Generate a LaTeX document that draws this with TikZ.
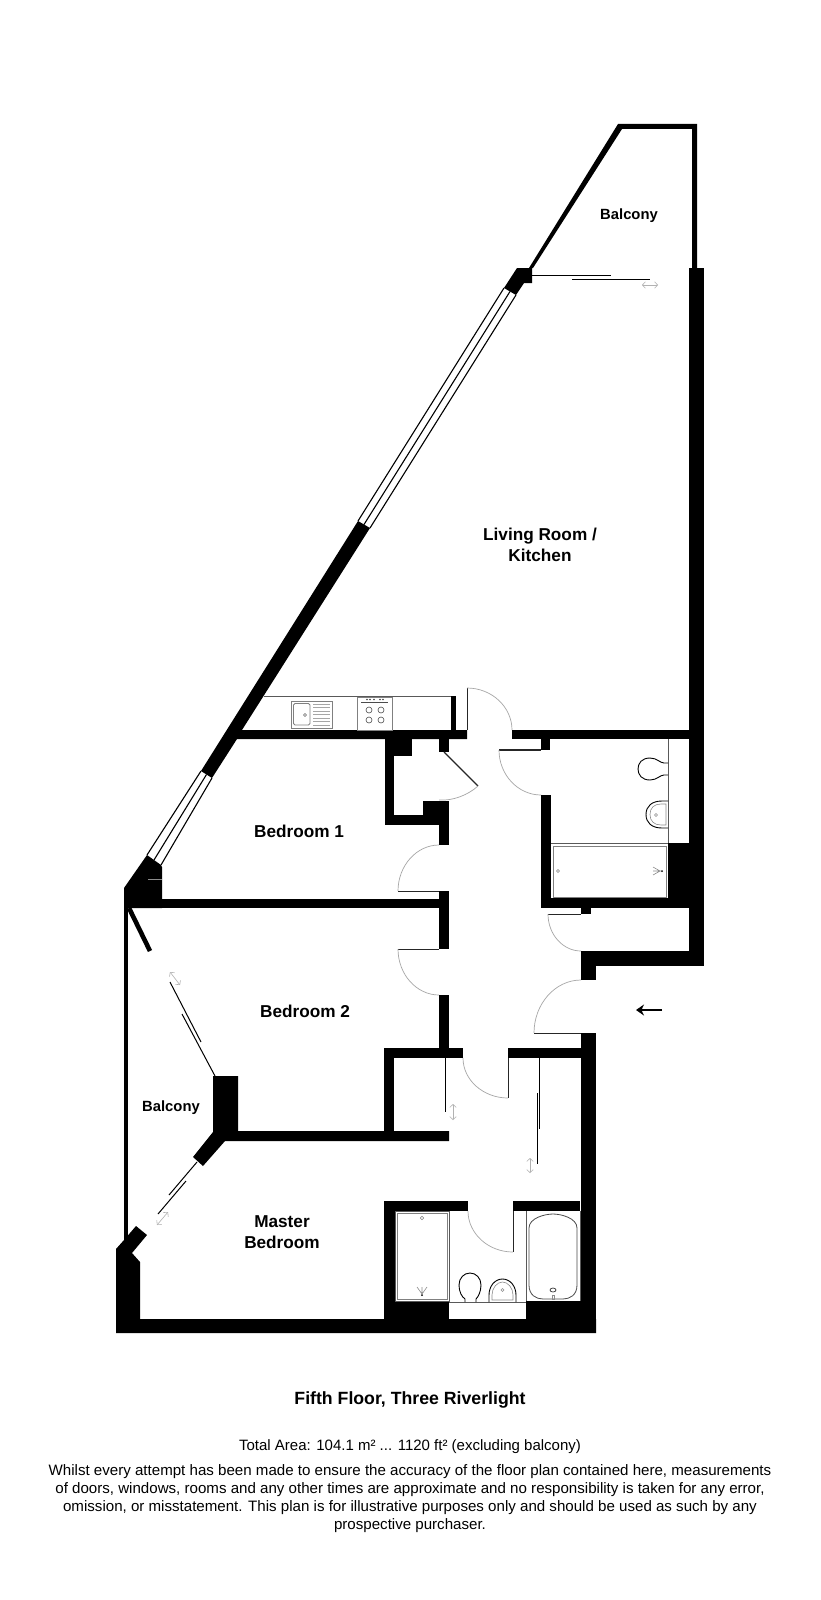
\documentclass[tikz,border=0pt]{standalone}
\usepackage{fontspec}
\setmainfont{Liberation Sans}
\usetikzlibrary{calc,arrows.meta}
\tikzset{
  x=1pt,y=-1pt,
  wallfill/.style={fill=black,draw=none},
  swing/.style={draw=black!35,line width=0.7pt},
  leaf/.style={draw=black!85,line width=0.9pt},
  slider/.style={draw=black,line width=1pt},
  thinwall/.style={draw=black!65,line width=0.9pt},
  frame/.style={draw=black!50,line width=0.8pt},
  fixture/.style={draw=black,line width=0.9pt},
  fixturegrey/.style={draw=black!45,line width=0.6pt},
  glazing/.style={draw=black,line width=1.1pt},
  hint/.style={draw=black!30,line width=0.6pt,{Straight Barb[length=3pt,width=6.5pt]}-{Straight Barb[length=3pt,width=6.5pt]}},
  roomlabel/.style={font=\bfseries\fontsize{17.2}{21.5}\selectfont,align=center,inner sep=0pt},
  balconylabel/.style={font=\bfseries\fontsize{14.8}{18}\selectfont,align=center,inner sep=0pt},
  titlelabel/.style={font=\bfseries\fontsize{17.7}{20}\selectfont,align=center,inner sep=0pt},
  arealabel/.style={font=\fontsize{15}{18}\selectfont,align=center,inner sep=0pt},
  notelabel/.style={font=\fontsize{15.1}{18}\selectfont,align=center,inner sep=0pt},
}
\newcommand{\wallrect}[2]{\fill[wallfill] (#1) rectangle (#2);}
\newcommand{\doorswing}[3]{\draw[swing] (#1) .. controls ($(#1)+0.55*(#2)-0.55*(#3)$) and ($(#2)+0.55*(#1)-0.55*(#3)$) .. (#2);}
\begin{document}
\begin{tikzpicture}
\useasboundingbox (0,0) rectangle (820,1600);
\fill[white] (0,0) rectangle (820,1600);
% balcony rail
\fill[wallfill] (618,124) -- (697,124) -- (697,268) -- (692,268) -- (692,129) -- (622,129) -- (533,268) -- (529,268) -- cycle;
% main walls
\wallrect{689,268}{704,966}
\wallrect{512,730}{689,739}
\wallrect{541,739}{550,750}
\wallrect{541,795}{551,908}
\wallrect{541,898}{704,908}
\wallrect{668,843}{704,908}
\wallrect{581,908}{591,914}
\wallrect{581,951}{704,966}
\wallrect{581,951}{596,980}
\wallrect{581,1033}{596,1333}
\wallrect{508,1048}{596,1058}
\wallrect{384,1048}{463,1058}
\wallrect{384,1048}{394,1140}
\wallrect{439,995}{449,1058}
\wallrect{439,891}{449,949}
\wallrect{160,899}{449,908}
% closet
\wallrect{385,739}{394,825}
\wallrect{385,739}{412,756}
\wallrect{439,739}{449,752}
\wallrect{423,801}{449,825}
\wallrect{385,815}{449,825}
\wallrect{439,801}{449,845}
\wallrect{451,696}{456,730}
% slanted wall + kitchen wall
\fill[wallfill] (358,521) -- (370,528) -- (242,730) -- (467,730) -- (467,739) -- (237,739) -- (212,778) -- (201,771) -- cycle;
% window end blocks
\fill[wallfill] (517,268) -- (532,268) -- (532,283) -- (524,283) -- (516,295) -- (504,288) -- cycle;
\fill[wallfill] (147,855) -- (161,865) -- (162,867) -- (162,908) -- (124,908) -- (124,888) -- cycle;
\draw[black!45,line width=0.8pt] (148,879) -- (162,879);
% left rail and stub
\wallrect{124,888}{128,1242}
\draw[line width=4.6pt] (129,908) -- (150,951);
% bedroom 2 / master wall
\fill[wallfill] (213,1076) -- (238,1076) -- (238,1131) -- (449,1131) -- (449,1141) -- (225,1141) -- (203,1166) -- (193,1157) -- (213,1132) -- cycle;
% bottom left
\fill[wallfill] (136,1226) -- (147,1235) -- (132,1253) -- (140,1262) -- (140,1319) -- (596,1319) -- (596,1333) -- (116,1333) -- (116,1249) -- (124,1240) -- cycle;
% master bath
\wallrect{384,1201}{468,1211}
\wallrect{384,1201}{395,1333}
\wallrect{395,1301}{449,1333}
\wallrect{526,1301}{596,1333}
\wallrect{513,1201}{580,1211}
% windows
\foreach \a/\b/\c/\d in {147/855/201/771,161/865/212/778,154/860/206.5/774.5,358/521/504/288,370/528/516/295,364/524.5/510/291.5}
  \draw[glazing] (\a,\b) -- (\c,\d);
% door leaves
\draw[leaf] (467,688) -- (467,730);
\draw[leaf,line width=1.2pt] (499,750) -- (541,750);
\draw[leaf,line width=1.1pt] (444,752) -- (478,786);
\draw[leaf] (398,891) -- (439,891);
\draw[leaf] (398,949) -- (439,949);
\draw[leaf] (548,914) -- (581,914);
\draw[leaf] (534,1033) -- (581,1033);
\draw[leaf] (508,1058) -- (508,1098);
\draw[leaf] (513,1211) -- (513,1252);
% door swings
\doorswing{467,688}{512,730}{467,730}
\doorswing{499,750}{541,795}{541,750}
\draw[swing] (478,786) .. controls (468,795) and (453,801) .. (439,800);
\doorswing{398,891}{439,845}{439,891}
\doorswing{398,949}{439,995}{439,949}
\doorswing{548,914}{581,951}{581,914}
\doorswing{534,1033}{581,980}{581,1033}
\doorswing{508,1098}{463,1058}{508,1058}
\doorswing{513,1252}{468,1211}{513,1211}
% sliding doors
\draw[slider] (532,275) -- (611,275);
\draw[slider] (572,279) -- (650,279);
\draw[hint] (642,285) -- (658,285);
\draw[slider] (445,1058) -- (445,1112);
\draw[hint] (453,1104) -- (453,1120);
\draw[slider] (539,1058) -- (539,1129);
\draw[slider] (537,1093) -- (537,1164);
\draw[hint] (530,1158) -- (530,1173);
\draw[slider] (170,982) -- (201,1042);
\draw[slider] (182,1014) -- (215,1076);
\draw[hint] (170,972) -- (180,985);
\draw[slider] (197,1162) -- (169,1195);
\draw[slider] (186,1181) -- (158,1214);
\draw[hint] (157,1225) -- (168,1212);
% entrance arrow
\draw[line width=1.3pt,-{Stealth[length=8pt,width=11pt]}] (662,1010) -- (636,1010);
% kitchen counter
\draw[thinwall] (264,696) -- (451,696);
\draw[frame,line width=1pt] (357,697) rectangle (392,730);
\foreach \px/\py in {369/710,381/710,369/720,381/720}
  \draw[black!70,line width=0.6pt] (\px,\py) circle (3);
\draw[black!70,line width=0.7pt] (361,702.5) -- (388,702.5);
\foreach \px in {367,370,374,380,383}
  \fill[black!75] (\px,699.5) circle (0.8);
% sink
\draw[frame] (291,701) rectangle (332,728);
\draw[frame,rounded corners=1.5pt] (293.5,703.5) rectangle (310,725);
\draw[black!60,line width=0.6pt] (305,715) circle (1.5);
\foreach \py in {704,707.5,711,714.5,718,721.5,725}
  \draw[black!35,line width=0.6pt] (313,\py) -- (330,\py);
% bathroom 1
\draw[thinwall] (668,739) -- (668,843);
\draw[thinwall] (551,843.5) -- (668,843.5);
\draw[frame] (553,846) rectangle (666,897);
\draw[black!50,line width=0.6pt] (558,871) circle (1.5);
\fill (662,871) circle (1);
\draw[fixturegrey] (661,871) -- (653,871) (660,871) -- (653,867) (660,871) -- (653,875);
\draw[fixture] (668,763) -- (664,763) .. controls (660,763) and (657,758) .. (650,758) .. controls (642,758) and (638,763) .. (638,769) .. controls (638,775) and (642,780) .. (650,780) .. controls (657,780) and (660,775) .. (664,775) -- (668,775);
\draw[fixture] (668,801) -- (662,801) .. controls (652,801) and (646,806) .. (646,814.5) .. controls (646,823) and (652,828) .. (662,828) -- (668,828);
\draw[fixturegrey] (666,804) -- (661,804) .. controls (654,804) and (650,808) .. (650,814.5) .. controls (650,821) and (654,825) .. (661,825) -- (666,825) -- cycle;
\draw[fixturegrey] (656,815) circle (1.5);
% master shower
\draw[frame] (397,1213) rectangle (447,1299);
\draw[thinwall] (395,1211) rectangle (449,1301);
\draw[black!50,line width=0.6pt] (422,1218) circle (1.8);
\fill (422,1295) circle (1);
\draw[fixturegrey] (422,1294) -- (422,1287) (422,1294) -- (417,1287) (422,1294) -- (427,1287);
% master wc and basin
\draw[thinwall] (449,1302) -- (526,1302);
\draw[fixture] (465,1302) -- (465,1299) .. controls (462,1297) and (459,1292) .. (459,1285) .. controls (459,1278) and (464,1273) .. (470,1273) .. controls (476,1273) and (481,1278) .. (481,1285) .. controls (481,1292) and (478,1297) .. (476,1299) -- (476,1302);
\draw[fixture] (489,1302) -- (489,1295) .. controls (489,1286) and (495,1279) .. (502.5,1279) .. controls (510,1279) and (516,1286) .. (516,1295) -- (516,1302);
\draw[fixturegrey] (492,1300) -- (492,1295) .. controls (492,1288) and (497,1282) .. (502.5,1282) .. controls (508,1282) and (513,1288) .. (513,1295) -- (513,1300) -- cycle;
\draw[fixturegrey] (502.5,1290) circle (1.5);
% master tub
\draw[thinwall] (526,1211) -- (526,1301);
\draw[thinwall] (580,1211) -- (580,1301);
\draw[frame,draw=black!70] (529,1228) .. controls (529,1218) and (545,1214) .. (553,1214) .. controls (561,1214) and (577,1218) .. (577,1228) -- (577,1285) .. controls (577,1295) and (570,1299) .. (563,1299) -- (543,1299) .. controls (536,1299) and (529,1295) .. (529,1285) -- cycle;
\draw[black!80,line width=0.7pt] (553,1290) ellipse (3 and 2);
\draw[fixturegrey] (552,1295) rectangle (554,1299);
% labels
\node[balconylabel] (balconytop) at (629,216) {Balcony};
\node[balconylabel] (balconyleft) at (171,1108) {Balcony};
\node[roomlabel] (living) at (540,545) {Living Room /\\Kitchen};
\node[roomlabel] (bed1) at (299,831) {Bedroom 1};
\node[roomlabel] (bed2) at (305,1011) {Bedroom 2};
\node[roomlabel] (master) at (282,1232) {Master\\Bedroom};
\node[titlelabel] (title) at (410,1400) {Fifth Floor, Three Riverlight};
\node[arealabel] (area) at (410,1447) {Total Area: 104.1 m² ... 1120 ft² (excluding balcony)};
\node[notelabel,anchor=north] (note) at (410,1464) {Whilst every attempt has been made to ensure the accuracy of the floor plan contained here, measurements\\of doors, windows, rooms and any other times are approximate and no responsibility is taken for any error,\\omission, or misstatement. This plan is for illustrative purposes only and should be used as such by any\\prospective purchaser.};
\end{tikzpicture}
\end{document}
